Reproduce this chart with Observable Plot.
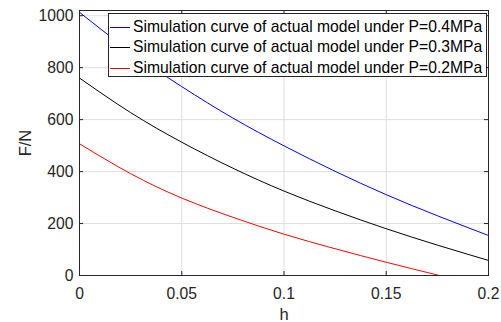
<!DOCTYPE html>
<html>
<head>
<meta charset="utf-8">
<script src="https://cdn.jsdelivr.net/npm/d3@7"></script>
<script src="https://cdn.jsdelivr.net/npm/@observablehq/plot@0.6"></script>
<style>
  html, body { margin: 0; padding: 0; background: #fff; }
  #wrap { position: relative; width: 501px; height: 322px; font-family: "Liberation Sans", Arial, sans-serif; }
  #legend { position: absolute; left: 108px; top: 13px; width: 377px; height: 62px; border: 1px solid #262626; background: #fff; }
  .row { position: absolute; left: 0; height: 20px; font-size: 15.7px; line-height: 20px; color: #000; white-space: nowrap; }
  .sw { position: absolute; left: 1px; top: 10px; width: 20px; height: 1px; }
  .lbl { position: absolute; left: 24px; top: 0; }
</style>
</head>
<body>
<div id="wrap"></div>
<script>
// Data
const hValues = [0, 0.025, 0.05, 0.075, 0.1, 0.125, 0.15, 0.175, 0.2];
const force04 = [1013, 861, 727, 606, 499, 401, 311, 230, 154];
const force03 = [760, 627, 513, 413, 325, 249, 180, 117, 58];
const hRed = [0, 0.025, 0.05, 0.075, 0.1, 0.125, 0.15, 0.176];
const force02 = [507, 392, 298, 224, 159, 103, 51, 0];

const seriesNames = [
  "Simulation curve of actual model under P=0.4MPa",
  "Simulation curve of actual model under P=0.3MPa",
  "Simulation curve of actual model under P=0.2MPa"
];
const seriesColors = ["#0000ff", "#000000", "#ff0000"];

const xTicks = [0, 0.05, 0.1, 0.15, 0.2];
const xTickLabels = ["0", "0.05", "0.1", "0.15", "0.2"];
const yTicks = [0, 200, 400, 600, 800, 1000];
const yTickLabels = ["0", "200", "400", "600", "800", "1000"];

const data = [
  ...hValues.map((h, i) => ({h, F: force04[i], s: seriesNames[0]})),
  ...hValues.map((h, i) => ({h, F: force03[i], s: seriesNames[1]})),
  ...hRed.map((h, i) => ({h, F: force02[i], s: seriesNames[2]}))
];

const W = 501, H = 322, mL = 79, mR = 13, mT = 10, mB = 47;
const fw = W - mL - mR, fh = H - mT - mB;
const axisColor = "#262626";
const fs = 15.7;

const chart = Plot.plot({
  width: W, height: H,
  marginLeft: mL, marginRight: mR, marginTop: mT, marginBottom: mB,
  style: {fontFamily: '"Liberation Sans", Arial, sans-serif', fontSize: fs + "px", color: axisColor, background: "#fff"},
  x: {domain: [0, 0.2]},
  y: {domain: [0, 1020]},
  color: {domain: seriesNames, range: seriesColors},
  marks: [
    Plot.ruleX(xTicks, {stroke: "#dedede", strokeWidth: 1}),
    Plot.ruleY(yTicks, {stroke: "#dedede", strokeWidth: 1}),
    Plot.line(data, {x: "h", y: "F", z: "s", stroke: "s", strokeWidth: 1, curve: "natural"}),
    Plot.frame({stroke: axisColor, strokeWidth: 1}),
    // inward ticks (bottom, top, left, right)
    Plot.ruleX(xTicks, {stroke: axisColor, insetTop: fh - 4}),
    Plot.ruleX(xTicks, {stroke: axisColor, insetBottom: fh - 4}),
    Plot.ruleY(yTicks, {stroke: axisColor, insetRight: fw - 4}),
    Plot.ruleY(yTicks, {stroke: axisColor, insetLeft: fw - 4}),
    Plot.axisX(xTicks, {tickSize: 0, tickPadding: 12, tickFormat: (d, i) => xTickLabels[i], label: null, fill: axisColor, fontSize: fs}),
    Plot.axisY(yTicks, {tickSize: 0, tickPadding: 6, tickFormat: (d, i) => yTickLabels[i], label: null, fill: axisColor, fontSize: fs}),
    Plot.text(["h"], {frameAnchor: "bottom", dy: 39, lineAnchor: "middle", fill: axisColor, fontSize: 16.5}),
    Plot.text(["F/N"], {frameAnchor: "left", dx: -53.5, rotate: -90, lineAnchor: "middle", textAnchor: "middle", fill: axisColor, fontSize: 16.5})
  ]
});

const wrap = document.getElementById("wrap");
wrap.appendChild(chart);

const legend = document.createElement("div");
legend.id = "legend";
const rowCenters = [12.5, 33.2, 53.8];
seriesNames.forEach((name, i) => {
  const row = document.createElement("div");
  row.className = "row";
  row.style.top = Math.round(rowCenters[i] - 10) + "px";
  const sw = document.createElement("div");
  sw.className = "sw";
  sw.style.background = seriesColors[i];
  const t = document.createElement("span");
  t.className = "lbl";
  t.textContent = name;
  row.appendChild(sw);
  row.appendChild(t);
  legend.appendChild(row);
});
wrap.appendChild(legend);
</script>
</body>
</html>
